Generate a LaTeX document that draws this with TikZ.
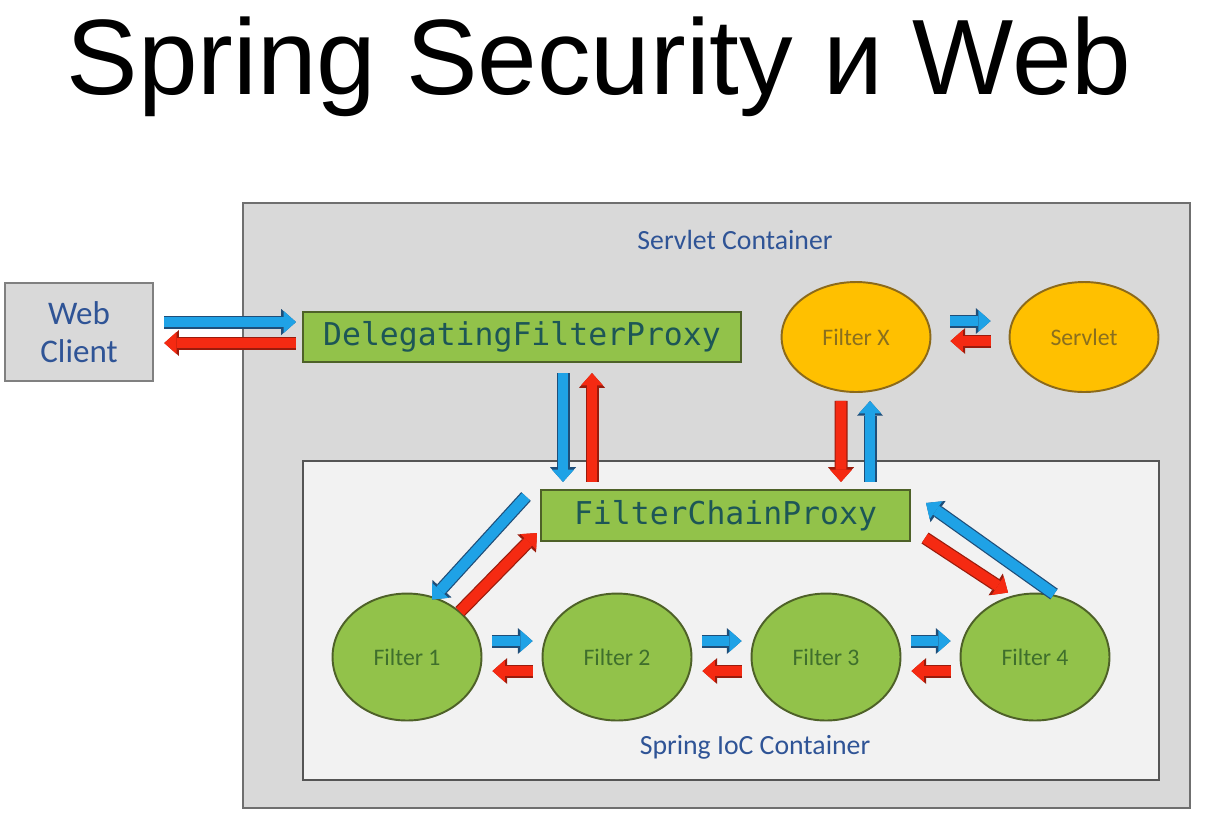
\documentclass[tikz,border=0pt]{standalone}
\usepackage{fontspec}
\setmainfont{Liberation Sans}
\setmonofont{DejaVu Sans Mono}
\newfontfamily\labelfont{Carlito}
\usetikzlibrary{arrows.meta, positioning, shapes.geometric, calc}

\definecolor{boxgray}{HTML}{D9D9D9}
\definecolor{boxedge}{HTML}{6F6F6F}
\definecolor{iocgray}{HTML}{F2F2F2}
\definecolor{iocedge}{HTML}{555555}
\definecolor{proxygreen}{HTML}{92C24A}
\definecolor{proxyedge}{HTML}{4E6128}
\definecolor{proxytext}{HTML}{1D5656}
\definecolor{filtertext}{HTML}{3F6F2C}
\definecolor{xorange}{HTML}{FFC000}
\definecolor{xedge}{HTML}{8C6A1A}
\definecolor{xtext}{HTML}{8A6F1E}
\definecolor{labelblue}{HTML}{2F5496}
\definecolor{reqblue}{HTML}{1FA2E6}
\definecolor{reqedge}{HTML}{1F4E79}
\definecolor{respred}{HTML}{F52A12}
\definecolor{respedge}{HTML}{9A1B0C}

\begin{document}
\begin{tikzpicture}[
    x=0.02cm, y=-0.02cm,
    container/.style={draw=boxedge, line width=1.5pt, fill=boxgray,
      inner sep=0pt},
    ioc/.style={draw=iocedge, line width=1.1pt, fill=iocgray, inner sep=0pt},
    caption/.style={text=labelblue, font=\labelfont\fontsize{15.8}{18}\selectfont},
    proxy/.style={draw=proxyedge, line width=1.2pt, fill=proxygreen,
      text=proxytext, inner sep=0pt,
      font=\ttfamily\fontsize{17.9}{20}\selectfont},
    filter/.style={ellipse, draw=proxyedge, line width=1.1pt, fill=proxygreen,
      text=filtertext, minimum width=2.98cm, minimum height=2.54cm,
      font=\labelfont\fontsize{13.5}{16}\selectfont},
    outer/.style={ellipse, draw=xedge, line width=1.1pt, fill=xorange,
      text=xtext, minimum width=2.98cm, minimum height=2.2cm,
      font=\labelfont\fontsize{13.5}{16}\selectfont},
    req/.style={reqblue, line width=6pt,
      -{Triangle[length=7pt, width=12.5pt, line width=0pt]},
      preaction={draw=reqedge, line width=7.4pt,
        -{Triangle[length=8.4pt, width=14.8pt, line width=0pt]}}},
    resp/.style={respred, line width=6pt,
      -{Triangle[length=7pt, width=12.5pt, line width=0pt]},
      preaction={draw=respedge, line width=7.4pt,
        -{Triangle[length=8.4pt, width=14.8pt, line width=0pt]}}}
  ]
  \useasboundingbox[fill=white] (0,0) rectangle (1206,823);

  \node[anchor=base, font=\fontsize{61}{72}\selectfont] (title) at (599,94)
    {Spring Security и Web};

  % containers
  \node[container, minimum width=18.94cm, minimum height=12.1cm]
    (servletc) at (716.5,505.5) {};
  \node[caption] (servletlbl) at (735,240) {Servlet Container};
  \node[ioc, minimum width=17.12cm, minimum height=6.38cm]
    (iocc) at (731,620.5) {};
  \node[caption] (ioclbl) at (755,747) {Spring IoC Container};

  % client and proxies
  \node[container, line width=1.4pt, draw=gray, minimum width=2.96cm,
        minimum height=1.96cm, align=center, text=labelblue,
        font=\labelfont\fontsize{18.8}{22}\selectfont] (client) at (79,332)
    {Web\\Client};
  \node[proxy, minimum width=8.76cm, minimum height=1cm] (dfp) at (522,337)
    {DelegatingFilterProxy};
  \node[proxy, minimum width=7.38cm, minimum height=1.02cm] (fcp)
    at (725.5,515.5) {FilterChainProxy};

  \node[outer] (filterx) at (856,337) {Filter X};
  \node[outer] (servlet) at (1084,337) {Servlet};

  \node[filter] (f1) at (407,657) {Filter 1};
  \node[filter] (f2) at (617,657) {Filter 2};
  \node[filter] (f3) at (826,657) {Filter 3};
  \node[filter] (f4) at (1035,657) {Filter 4};

  % request / response pairs
  \draw[req] ($(client.east)+(10,-10)$) -- ($(dfp.west)+(-6,-15)$);
  \draw[resp] ($(dfp.west)+(-6,6)$) -- ($(client.east)+(10,11)$);

  \draw[req] ($(dfp.south)+(41,10)$) -- ($(fcp.north)+(-162.5,-7)$);
  \draw[resp] ($(fcp.north)+(-133.5,-7)$) -- ($(dfp.south)+(70,10)$);

  \draw[resp] ($(filterx.south)+(-15,8)$) -- ($(fcp.north)+(115.5,-7)$);
  \draw[req] ($(fcp.north)+(144.5,-7)$) -- ($(filterx.south)+(14,8)$);

  \draw[req] ($(filterx.east)+(19,-16)$) -- ($(servlet.west)+(-18,-16)$);
  \draw[resp] ($(servlet.west)+(-18,4)$) -- ($(filterx.east)+(19,4)$);

  \draw[req] ($(fcp.west)+(-14,-19)$) -- ($(f1.north)+(25,7)$);
  \draw[resp] ($(f1.north)+(53,19)$) -- ($(fcp.west)+(-3,17.5)$);

  \draw[resp] ($(fcp.east)+(14,22.5)$) -- ($(f4.north)+(-27,0)$);
  \draw[req] ($(f4.north)+(19,1.5)$) -- ($(fcp.east)+(15,-12.5)$);

  \foreach \a/\b in {f1/f2, f2/f3, f3/f4} {
    \draw[req] ($(\a.east)+(10,-16)$) -- ($(\b.west)+(-9,-16)$);
    \draw[resp] ($(\b.west)+(-9,14)$) -- ($(\a.east)+(10,14)$);
  }
\end{tikzpicture}
\end{document}
